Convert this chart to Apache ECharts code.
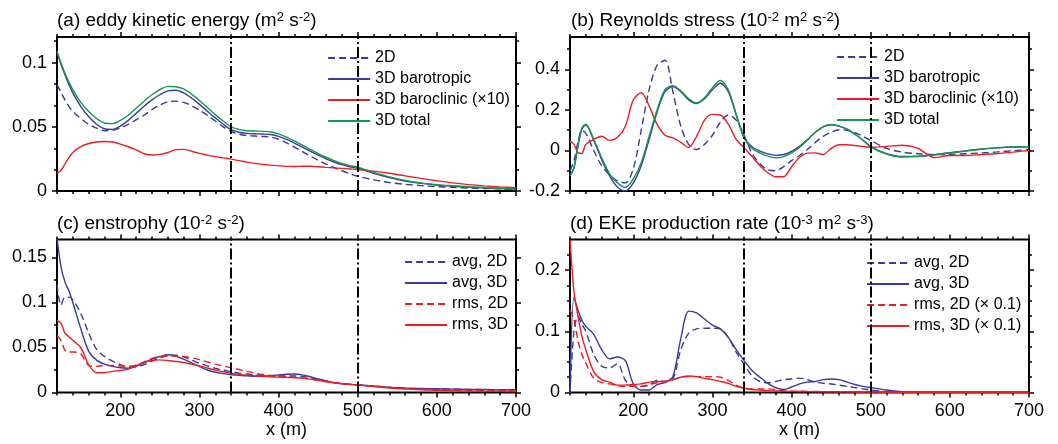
<!DOCTYPE html>
<html><head><meta charset="utf-8">
<script src="https://cdn.jsdelivr.net/npm/echarts@6/dist/echarts.min.js"></script>
<style>html,body{margin:0;padding:0;background:#fff}#c{width:1058px;height:444px}</style>
</head><body><div id="c"></div>
<script>
// ---------- DATA ----------
const xs = [120,125,130,135,140,150,160,170,180,190,200,210,220,230,240,250,260,270,280,290,300,310,320,330,340,350,360,370,380,390,400,410,420,430,440,450,460,470,480,490,500,520,540,560,580,600,620,640,660,680,700];

// (a) eddy kinetic energy
const eke2D = [0.083,0.077,0.071,0.066,0.062, 0.0565,0.052,0.049,0.047,0.0472, 0.049,0.052,0.0555,0.059,0.0635, 0.067,0.0695,0.07,0.069,0.0665, 0.063,0.059,0.0545,0.050,0.0465, 0.0443,0.0432,0.0428,0.0425,0.042, 0.0403,0.0375,0.0342,0.0307,0.0272, 0.024,0.021,0.0183,0.0158,0.0135, 0.0115, 0.0087,0.0066,0.0052,0.0042,0.0034,0.0028,0.0023,0.002,0.0017,0.0014];
const ekeBt = [0.108,0.099,0.0905,0.083,0.0765, 0.066,0.058,0.052,0.0485,0.048, 0.0505,0.055,0.0605,0.066,0.071, 0.075,0.078,0.0785,0.0765,0.0725, 0.0675,0.0622,0.057,0.052,0.0478, 0.0458,0.0449,0.0446,0.0444,0.044, 0.0426,0.0402,0.0373,0.0342,0.031, 0.0279,0.0251,0.0226,0.0205,0.0189, 0.0177, 0.0138,0.0104,0.0078,0.0059,0.0046,0.0037,0.003,0.0024,0.002,0.0015];
const ekeBc = [0.014,0.016,0.021,0.026,0.030, 0.0345,0.037,0.0382,0.0386,0.0382, 0.0365,0.0345,0.032,0.029,0.028, 0.0285,0.030,0.0322,0.0324,0.031, 0.0293,0.028,0.0268,0.0258,0.0248, 0.0237,0.0225,0.0215,0.0207,0.0202, 0.0196,0.0192,0.0191,0.0193,0.0193, 0.0189,0.0184,0.018,0.0176,0.0172, 0.0168, 0.0155,0.0138,0.0118,0.0098,0.008,0.0063,0.005,0.004,0.0032,0.0026];
const ekeTot = [0.109,0.100,0.092,0.085,0.079, 0.069,0.062,0.0565,0.053,0.0525, 0.055,0.059,0.0645,0.07,0.075, 0.079,0.0815,0.0812,0.0795,0.0755, 0.0705,0.065,0.0595,0.0545,0.050, 0.048,0.047,0.0467,0.0465,0.046, 0.0445,0.042,0.039,0.0358,0.0325, 0.0292,0.0263,0.0237,0.0215,0.0198, 0.0185, 0.0145,0.011,0.0083,0.0063,0.005,0.0041,0.0033,0.0027,0.0022,0.0017];

// (b) Reynolds stress
const rs2D = [-0.1,-0.05,0.04,0.1,0.085, 0.0,-0.075,-0.12,-0.15,-0.16, -0.09,0.1,0.3,0.42,0.445, 0.29,0.12,0.03,0.005,0.03, 0.075,0.14,0.175,0.15,0.075, -0.015,-0.065,-0.095,-0.1,-0.08, -0.05,-0.025,0.005,0.04,0.07, 0.09,0.102,0.1,0.088,0.07, 0.05, 0.01,-0.008,-0.016,-0.02,-0.019,-0.016,-0.012,-0.007,-0.001,0.005];
const rsBt = [-0.125,-0.085,0.02,0.105,0.125, 0.05,-0.045,-0.125,-0.18,-0.2, -0.16,-0.075,0.055,0.19,0.29, 0.315,0.29,0.25,0.232,0.255, 0.3,0.332,0.29,0.175,0.065, 0.018,-0.003,-0.017,-0.024,-0.02, -0.004,0.02,0.053,0.09,0.117, 0.127,0.12,0.105,0.08,0.052, 0.019, -0.016,-0.03,-0.028,-0.021,-0.011,-0.002,0.007,0.013,0.017,0.018];
const rsBc = [0.045,0.03,-0.01,-0.015,0.03, 0.055,0.07,0.05,0.065,0.12, 0.25,0.285,0.22,0.13,0.075, 0.062,0.04,0.015,0.07,0.15, 0.178,0.175,0.13,0.055,0.013, -0.03,-0.075,-0.11,-0.13,-0.13, -0.08,-0.035,-0.013,-0.012,-0.02, 0.01,0.028,0.028,0.024,0.02, 0.016, 0.02,0.026,0.01,-0.035,-0.025,-0.025,-0.02,-0.015,-0.008,0.0];
const rsTot = [-0.125,-0.085,0.02,0.11,0.13, 0.055,-0.036,-0.115,-0.16,-0.183, -0.14,-0.06,0.07,0.2,0.3, 0.32,0.295,0.255,0.235,0.26, 0.31,0.345,0.3,0.18,0.06, 0.01,-0.012,-0.028,-0.036,-0.03, -0.012,0.015,0.05,0.09,0.118, 0.128,0.12,0.105,0.08,0.052, 0.018, -0.018,-0.032,-0.03,-0.022,-0.012,-0.003,0.006,0.013,0.017,0.018];

// (c) enstrophy
const ensAvg2D = [0.12,0.097,0.106,0.106,0.103, 0.088,0.066,0.048,0.04,0.035, 0.031,0.0285,0.0285,0.031,0.035, 0.0385,0.041,0.0415,0.0395,0.036, 0.0325,0.0295,0.027,0.0248,0.0232, 0.0215,0.0205,0.0195,0.019,0.0185, 0.0183,0.0183,0.0183,0.0178,0.0165, 0.0148,0.0128,0.011,0.0098,0.009, 0.0084, 0.007,0.0057,0.0048,0.0043,0.004,0.0037,0.0034,0.0032,0.003,0.0028];
const ensAvg3D = [0.172,0.14,0.123,0.113,0.1, 0.071,0.046,0.036,0.0315,0.029, 0.0275,0.027,0.029,0.033,0.037, 0.04,0.042,0.0405,0.037,0.033, 0.029,0.025,0.0225,0.021,0.0198, 0.019,0.0185,0.018,0.0183,0.0188, 0.0195,0.0202,0.0205,0.0196,0.0175, 0.015,0.0128,0.011,0.0098,0.0091, 0.0085, 0.0072,0.0058,0.0049,0.0044,0.0041,0.0038,0.0035,0.0033,0.0031,0.003];
const ensRms2D = [0.063,0.058,0.047,0.045,0.045, 0.043,0.03,0.029,0.03,0.03, 0.0295,0.029,0.0305,0.034,0.038, 0.0398,0.0405,0.0405,0.04,0.0385, 0.0365,0.034,0.0315,0.0295,0.0275, 0.0255,0.0235,0.0215,0.02,0.019, 0.018,0.0173,0.0167,0.016,0.015, 0.0138,0.0125,0.0112,0.01,0.0092, 0.0086, 0.007,0.0056,0.0045,0.0037,0.0031,0.0027,0.0024,0.0022,0.002,0.0019];
const ensRms3D = [0.08,0.077,0.066,0.062,0.058, 0.05,0.031,0.022,0.022,0.0235, 0.0245,0.026,0.03,0.0335,0.0355, 0.0362,0.0355,0.0345,0.0333,0.0315, 0.0295,0.0272,0.025,0.023,0.0215, 0.0202,0.0192,0.0185,0.018,0.0175, 0.0171,0.0168,0.0165,0.016,0.0148, 0.0135,0.012,0.0108,0.0098,0.009, 0.0084, 0.0065,0.005,0.0039,0.0031,0.0025,0.002,0.0017,0.0014,0.0012,0.001];

// (d) EKE production rate
const prAvg2D = [0.0,0.1,0.125,0.112,0.1, 0.062,0.043,0.04,0.047,0.02, 0.01,0.01,0.012,0.02,0.018, 0.022,0.07,0.097,0.104,0.105, 0.105,0.104,0.09,0.066,0.046, 0.027,0.018,0.016,0.018,0.021, 0.022,0.0235,0.021,0.017,0.015, 0.014,0.012,0.01,0.008,0.006, 0.004, 0.0015,0.0005,0,0,0,0,0,0,0,0];
const prAvg3D = [0.0,0.155,0.135,0.118,0.108, 0.095,0.07,0.055,0.058,0.052, 0.014,0.004,0.004,0.013,0.016, 0.026,0.088,0.133,0.13,0.12, 0.11,0.104,0.09,0.07,0.052, 0.036,0.025,0.015,0.008,0.005, 0.009,0.014,0.017,0.018,0.021, 0.022,0.021,0.017,0.013,0.01, 0.008, 0.004,0.0015,0.0005,0.0002,0,0,0,0,0,0];
const prRms2D = [0.135,0.12,0.085,0.062,0.048, 0.023,0.016,0.014,0.011,0.01, 0.01,0.01,0.013,0.016,0.018, 0.021,0.025,0.026,0.026,0.026, 0.026,0.025,0.02,0.012,0.007, 0.006,0.006,0.006,0.005,0.003, 0.002,0.002,0.0018,0.0016,0.0015, 0.0013,0.0012,0.001,0.0009,0.0008, 0.0007, 0.0005,0.0004,0.0003,0.0002,0.0001,0,0,0,0,0];
const prRms3D = [0.25,0.165,0.125,0.092,0.07, 0.034,0.021,0.017,0.012,0.012, 0.013,0.014,0.017,0.018,0.018, 0.021,0.025,0.027,0.026,0.023, 0.021,0.018,0.015,0.01,0.007, 0.005,0.004,0.003,0.0025,0.002, 0.0018,0.0016,0.0015,0.0014,0.0013, 0.0012,0.0011,0.001,0.0009,0.0008, 0.0007, 0.0005,0.0004,0.0003,0.0002,0.0001,0,0,0,0,0];

// ticks
const xLabelTicks = [200,300,400,500,600,700];
const xMinorTicks = [120,140,160,180,200,220,240,260,280,300,320,340,360,380,400,420,440,460,480,500,520,540,560,580,600,620,640,660,680,700];
const yTicksA = [0,0.05,0.1],  yMinorA = [0.0167,0.0333,0.0667,0.0833,0.1167];
const yTicksB = [-0.2,0,0.2,0.4], yMinorB = [-0.1,0.1,0.3,0.5];
const yTicksC = [0,0.05,0.1,0.15], yMinorC = [0.025,0.075,0.125];
const yTicksD = [0,0.1,0.2], yMinorD = [0.025,0.05,0.075,0.125,0.15,0.175,0.225];
const markersX = [340, 500];

// ---------- CHART ----------
const FONT = 'Liberation Sans, Arial, Helvetica, sans-serif';
const BLUE = '#3a3a9a', RED = '#ec1c24', GREEN = '#12994a';
const grids = [
  {left:57, top:37, width:459, height:154},
  {left:570, top:37, width:459, height:154},
  {left:57, top:239.5, width:459, height:153},
  {left:570, top:239.5, width:459, height:153}
].map(g => Object.assign(g, {show:true, borderColor:'#000', borderWidth:2, containLabel:false}));

const panels = [
  {yMin:0, yMax:0.12, ticks:yTicksA, minor:yMinorA, bottom:false},
  {yMin:-0.2, yMax:0.56, ticks:yTicksB, minor:yMinorB, bottom:false},
  {yMin:0, yMax:0.17, ticks:yTicksC, minor:yMinorC, bottom:true},
  {yMin:0, yMax:0.25, ticks:yTicksD, minor:yMinorD, bottom:true}
];
const tickLine = {color:'#000', width:1.5};
const xAxes = [], yAxes = [];
panels.forEach((p, gi) => {
  const base = {gridIndex:gi, type:'value', min:120, max:700, splitLine:{show:false},
    axisLine:{show:false, onZero:false}};
  xAxes.push(Object.assign({}, base, {position:'bottom',
    axisTick:{show:true, customValues:xLabelTicks, length:5, lineStyle:tickLine},
    axisLabel:{show:p.bottom, customValues:xLabelTicks, margin:10, fontSize:18, color:'#000', fontFamily:FONT},
    name: p.bottom ? 'x (m)' : '', nameLocation:'middle', nameGap:25,
    nameTextStyle:{fontSize:18, color:'#000', fontFamily:FONT}}));
  xAxes.push(Object.assign({}, base, {position:'bottom',
    axisTick:{show:true, customValues:xMinorTicks, length:3, lineStyle:tickLine}, axisLabel:{show:false}}));
  xAxes.push(Object.assign({}, base, {position:'top',
    axisTick:{show:true, customValues:xLabelTicks, length:5, lineStyle:tickLine}, axisLabel:{show:false}}));
  xAxes.push(Object.assign({}, base, {position:'top',
    axisTick:{show:true, customValues:xMinorTicks, length:3, lineStyle:tickLine}, axisLabel:{show:false}}));
  const ybase = {gridIndex:gi, type:'value', min:p.yMin, max:p.yMax, splitLine:{show:false},
    axisLine:{show:false, onZero:false}};
  yAxes.push(Object.assign({}, ybase, {position:'left',
    axisTick:{show:true, customValues:p.ticks, length:5, lineStyle:tickLine},
    axisLabel:{show:true, customValues:p.ticks, margin:10, fontSize:18, color:'#000', fontFamily:FONT}}));
  yAxes.push(Object.assign({}, ybase, {position:'left',
    axisTick:{show:true, customValues:p.minor, length:3, lineStyle:tickLine}, axisLabel:{show:false}}));
  yAxes.push(Object.assign({}, ybase, {position:'right',
    axisTick:{show:true, customValues:p.ticks, length:5, lineStyle:tickLine}, axisLabel:{show:false}}));
  yAxes.push(Object.assign({}, ybase, {position:'right',
    axisTick:{show:true, customValues:p.minor, length:3, lineStyle:tickLine}, axisLabel:{show:false}}));
});

function line(name, vals, color, dashed, gi, withMarkers) {
  const s = {type:'line', name, xAxisIndex:gi*4, yAxisIndex:gi*4,
    data: xs.map((x, i) => [x, vals[i]]),
    symbol:'none', showSymbol:false, smooth:0.3, animation:false,
    lineStyle:{color, width:1.4, type: dashed ? [7,4] : 'solid'},
    itemStyle:{color}};
  if (withMarkers) {
    s.markLine = {silent:true, symbol:['none','none'], label:{show:false}, animation:false,
      lineStyle:{color:'#000', width:2, type:[11,3,2,3]},
      data: markersX.map(v => ({xAxis:v}))};
  }
  return s;
}

const series = [
  line('2D', eke2D, BLUE, true, 0, true),
  line('3D barotropic', ekeBt, BLUE, false, 0),
  line('3D baroclinic (×10)', ekeBc, RED, false, 0),
  line('3D total', ekeTot, GREEN, false, 0),
  line('2D', rs2D, BLUE, true, 1, true),
  line('3D barotropic', rsBt, BLUE, false, 1),
  line('3D baroclinic (×10)', rsBc, RED, false, 1),
  line('3D total', rsTot, GREEN, false, 1),
  line('avg, 2D', ensAvg2D, BLUE, true, 2, true),
  line('avg, 3D', ensAvg3D, BLUE, false, 2),
  line('rms, 2D', ensRms2D, RED, true, 2),
  line('rms, 3D', ensRms3D, RED, false, 2),
  line('avg, 2D', prAvg2D, BLUE, true, 3, true),
  line('avg, 3D', prAvg3D, BLUE, false, 3),
  line('rms, 2D (× 0.1)', prRms2D, RED, true, 3),
  line('rms, 3D (× 0.1)', prRms3D, RED, false, 3)
];

function legend(left, top, names) {
  return {orient:'vertical', left, top, padding:0, itemWidth:42, itemHeight:10, itemGap:5,
    selectedMode:false, data:names,
    itemStyle:{opacity:0},
    lineStyle:{width:2.2},
    textStyle:{fontSize:16, lineHeight:16, color:'#000', fontFamily:FONT}};
}
const titleStyle = {fontSize:19, fontWeight:'normal', color:'#000', fontFamily:FONT,
  rich:{sup:{fontSize:13, verticalAlign:'top', lineHeight:12, fontFamily:FONT, color:'#000'}}};
function title(left, top, text) { return {left, top, text, padding:0, textStyle:titleStyle}; }

const option = {
  backgroundColor:'#fff',
  animation:false,
  title:[
    title(57, 11, '(a) eddy kinetic energy (m{sup|2} s{sup|-2})'),
    title(571, 11, '(b) Reynolds stress (10{sup|-2} m{sup|2} s{sup|-2})'),
    title(57, 214, '(c) enstrophy (10{sup|-2} s{sup|-2})'),
    title(570, 214, '(d) EKE production rate (10{sup|-3} m{sup|2} s{sup|-3})')
  ],
  legend:[
    legend(327, 50, ['2D','3D barotropic','3D baroclinic (×10)','3D total']),
    legend(836, 49, ['2D','3D barotropic','3D baroclinic (×10)','3D total']),
    legend(404, 254, ['avg, 2D','avg, 3D','rms, 2D','rms, 3D']),
    legend(866, 255, ['avg, 2D','avg, 3D','rms, 2D (× 0.1)','rms, 3D (× 0.1)'])
  ],
  grid: grids,
  xAxis: xAxes,
  yAxis: yAxes,
  series
};
const chart = echarts.init(document.getElementById('c'));
chart.setOption(option);
</script></body></html>
